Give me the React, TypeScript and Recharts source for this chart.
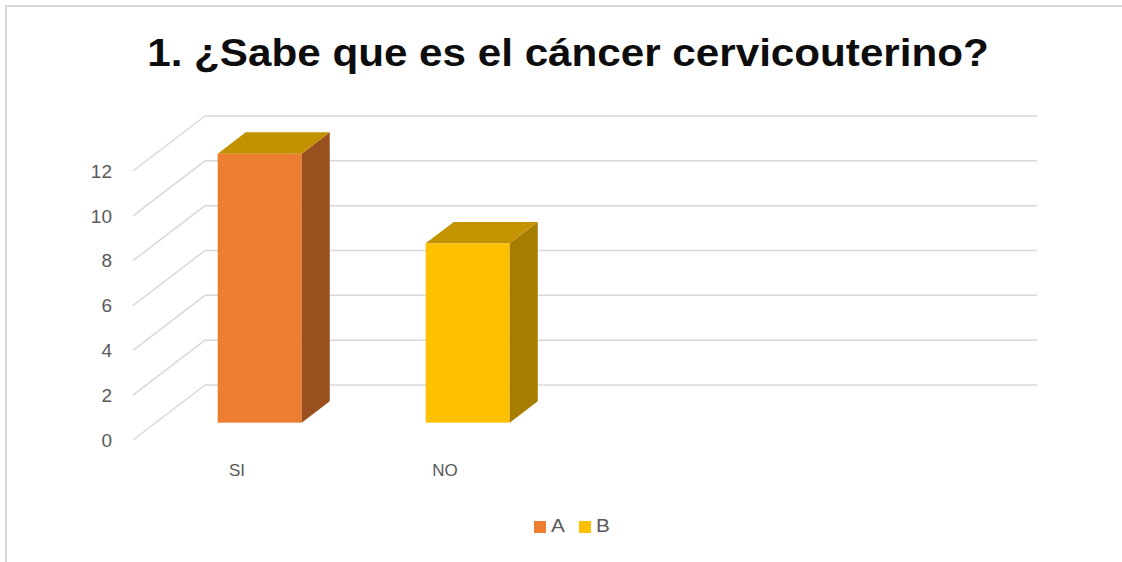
import { BarChart, Bar, XAxis, YAxis, CartesianGrid, Legend } from 'recharts';

const categories = ['SI', 'NO', '', ''];
const seriesA = [12, null, null, null];
const seriesB = [null, 8, null, null];
const yTicks = [0, 2, 4, 6, 8, 10, 12];

const data = categories.map((name, i) => ({ name, A: seriesA[i], B: seriesB[i] }));

// fake 3D: offset from front plane to back wall
const DEPTH_X = 72;
const DEPTH_Y = -55;
const BAR_OFFSET = 0.315; // where the bar front sits in the depth
const BAR_DEPTH = 0.39; // bar thickness as a share of the depth

const GRID = '#d9d9d9';
const TEXT = '#595959';
const FONT = '"Liberation Sans", Arial, sans-serif';

const makeBar3D = (front: string, side: string, top: string) => (props: any) => {
  const { x, y, width, height } = props;
  if (!height || height <= 0) return null;
  const fx = x + DEPTH_X * BAR_OFFSET;
  const fy = y + DEPTH_Y * BAR_OFFSET;
  const dx = DEPTH_X * BAR_DEPTH;
  const dy = DEPTH_Y * BAR_DEPTH;
  return (
    <g>
      <rect x={fx} y={fy} width={width} height={height} fill={front} />
      <polygon
        points={`${fx + width},${fy} ${fx + width + dx},${fy + dy} ${fx + width + dx},${fy + height + dy} ${fx + width},${fy + height}`}
        fill={side}
      />
      <polygon
        points={`${fx},${fy} ${fx + dx},${fy + dy} ${fx + width + dx},${fy + dy} ${fx + width},${fy}`}
        fill={top}
      />
    </g>
  );
};

const BarA = makeBar3D('#ed7d31', '#9a4f1f', '#c29100');
const BarB = makeBar3D('#ffc000', '#a67d00', '#c49300');

const GridLine3D = (props: any) => {
  const { x1, y1, x2 } = props;
  return (
    <g key={props.key ?? `g-${y1}`}>
      <line x1={x1} y1={y1} x2={x1 + DEPTH_X} y2={y1 + DEPTH_Y} stroke={GRID} strokeWidth={1.5} />
      <line x1={x1 + DEPTH_X} y1={y1 + DEPTH_Y} x2={x2 + DEPTH_X} y2={y1 + DEPTH_Y} stroke={GRID} strokeWidth={1.5} />
    </g>
  );
};

const LegendContent = (props: any) => {
  const { payload } = props;
  return (
    <div style={{ display: 'flex', justifyContent: 'center', gap: 15, fontFamily: FONT, fontSize: 18, color: TEXT }}>
      {(payload ?? []).map((entry: any) => (
        <div key={entry.value} style={{ display: 'flex', alignItems: 'center', gap: 5 }}>
          <span style={{ width: 12, height: 12, background: entry.color, display: 'inline-block' }} />
          <span style={{ display: 'inline-block', transform: 'scaleX(1.15)', transformOrigin: 'left' }}>{entry.value}</span>
        </div>
      ))}
    </div>
  );
};

export default function App() {
  return (
    <div
      style={{
        position: 'absolute',
        top: 0,
        left: 0,
        width: 1122,
        height: 562,
        background: '#fff',
        overflow: 'hidden',
      }}
    >
      <div
        style={{
          position: 'absolute',
          left: 5,
          top: 5,
          width: 1130,
          height: 570,
          borderLeft: `2px solid ${GRID}`,
          borderTop: `2px solid ${GRID}`,
        }}
      />
      <div
        style={{
          position: 'absolute',
          top: 32,
          left: 0,
          width: 1136,
          textAlign: 'center',
          fontFamily: FONT,
          fontWeight: 'bold',
          fontSize: 38,
          color: '#0d0d0d',
          transform: 'scaleX(1.11)',
        }}
      >
        1. ¿Sabe que es el cáncer cervicouterino?
      </div>
      <BarChart
        width={1122}
        height={562}
        data={data}
        margin={{ top: 171, right: 157, bottom: 92, left: 0 }}
        barSize={84}
      >
        <CartesianGrid vertical={false} horizontal={GridLine3D} />
        <XAxis
          dataKey="name"
          height={30}
          axisLine={false}
          tickLine={false}
          tickSize={0}
          tickMargin={24}
          tick={{ fill: TEXT, fontSize: 17, fontFamily: FONT }}
        />
        <YAxis
          width={133}
          domain={[0, 12]}
          ticks={yTicks}
          axisLine={false}
          tickLine={false}
          tickSize={0}
          tickMargin={21}
          tick={{ fill: TEXT, fontSize: 19, fontFamily: FONT }}
        />
        <Legend
          verticalAlign="middle"
          layout="horizontal"
          wrapperStyle={{ top: 516, left: 10, width: 1122 }}
          content={LegendContent}
        />
        <Bar dataKey="A" stackId="s" fill="#ed7d31" shape={BarA} isAnimationActive={false} />
        <Bar dataKey="B" stackId="s" fill="#ffc000" shape={BarB} isAnimationActive={false} />
      </BarChart>
    </div>
  );
}
